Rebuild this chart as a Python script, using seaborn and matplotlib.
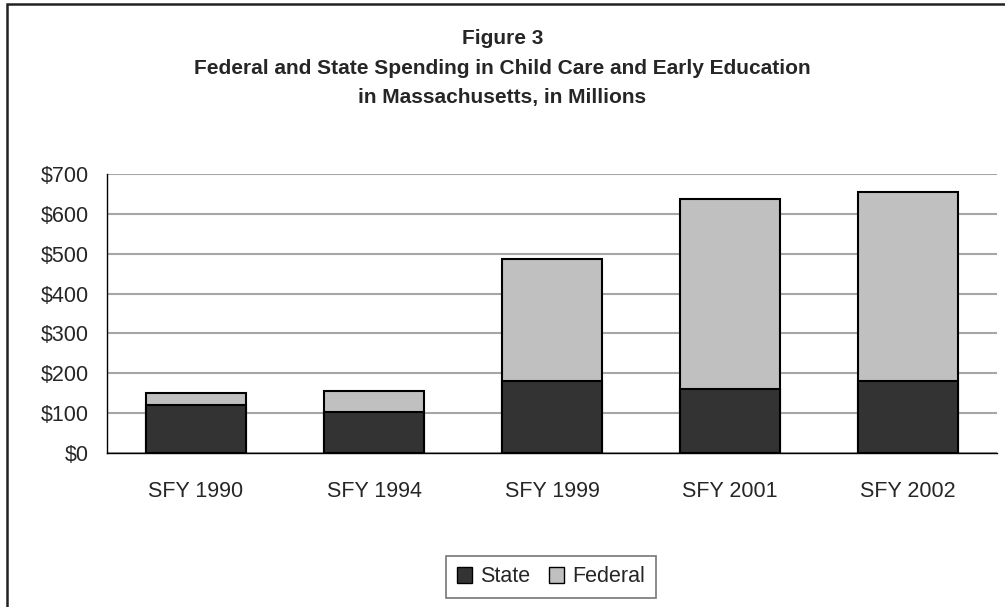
import numpy as np
import pandas as pd
import seaborn as sns
import matplotlib.pyplot as plt
from matplotlib.patches import Patch, Rectangle
from matplotlib.ticker import FuncFormatter

# Data (millions of dollars)
years = ["SFY 1990", "SFY 1994", "SFY 1999", "SFY 2001", "SFY 2002"]
state = [120, 104, 180, 160, 180]
federal = [30, 52, 306, 477, 476]

df = pd.DataFrame({"year": years, "State": state, "Federal": federal})
df["Total"] = df["State"] + df["Federal"]

sns.set_style("white")
plt.rcParams['font.family'] = ['Liberation Sans', 'DejaVu Sans']

fig = plt.figure(figsize=(10.05, 6.07), dpi=100)
ax = fig.add_axes([107 / 1005, 1 - 453 / 607, 890 / 1005, 279 / 607])

sns.barplot(data=df, x="year", y="Total", color="#c0c0c0", edgecolor="black",
            linewidth=1.5, width=0.567, saturation=1, ax=ax, zorder=3)
sns.barplot(data=df, x="year", y="State", color="#333333", edgecolor="black",
            linewidth=1.5, width=0.567, saturation=1, ax=ax, zorder=4)

ax.set_ylim(0, 700)
ax.set_xlim(-0.5, len(years) - 0.5)
ax.set_yticks(np.arange(0, 701, 100))
ax.yaxis.set_major_formatter(FuncFormatter(lambda v, p: f"${v:.0f}"))
ax.set_xlabel("")
ax.set_ylabel("")

# tick marks between categories on x
ax.set_xticks(np.arange(len(years)))
ax.set_xticks(np.arange(-0.5, len(years)), minor=True)
ax.tick_params(axis="x", which="major", length=0, labelsize=15.5, pad=20)
ax.tick_params(axis="x", which="minor", length=5, width=1, color="black", direction="out")
ax.tick_params(axis="y", length=5, width=1, color="black", direction="out", labelsize=15.5, pad=8)

ax.yaxis.grid(True, color="#a6a6a6", linewidth=1.5, zorder=0)
ax.set_axisbelow(True)
for s in ["top", "right"]:
    ax.spines[s].set_visible(False)
for s in ["left", "bottom"]:
    ax.spines[s].set_color("black")
    ax.spines[s].set_linewidth(1)

# title
fig.text(0.5, 1 - 38 / 607, "Figure 3", ha="center", va="center", fontsize=15, fontweight="bold")
fig.text(0.5, 1 - 68 / 607, "Federal and State Spending in Child Care and Early Education",
         ha="center", va="center", fontsize=15, fontweight="bold")
fig.text(0.5, 1 - 98 / 607, "in Massachusetts, in Millions", ha="center", va="center",
         fontsize=15, fontweight="bold")

# legend
handles = [Patch(facecolor="#333333", edgecolor="black", label="State"),
           Patch(facecolor="#c0c0c0", edgecolor="black", label="Federal")]
leg = fig.legend(handles=handles, loc="center", bbox_to_anchor=(551 / 1005, 1 - 577 / 607),
                 ncol=2, frameon=True, fancybox=False, fontsize=15.5, handlelength=0.7,
                 handleheight=0.7, handletextpad=0.35, columnspacing=0.9, borderpad=0.5)
leg.get_frame().set_edgecolor("#555555")
leg.get_frame().set_linewidth(1.2)

# outer chart border (only left and top visible in the crop)
fig.patches.append(Rectangle((7 / 1005, -0.1), 1.2, 1 - 4 / 607 + 0.1, transform=fig.transFigure,
                             fill=False, edgecolor="#222222", linewidth=1.8))

fig.savefig("out.png", dpi=100)
